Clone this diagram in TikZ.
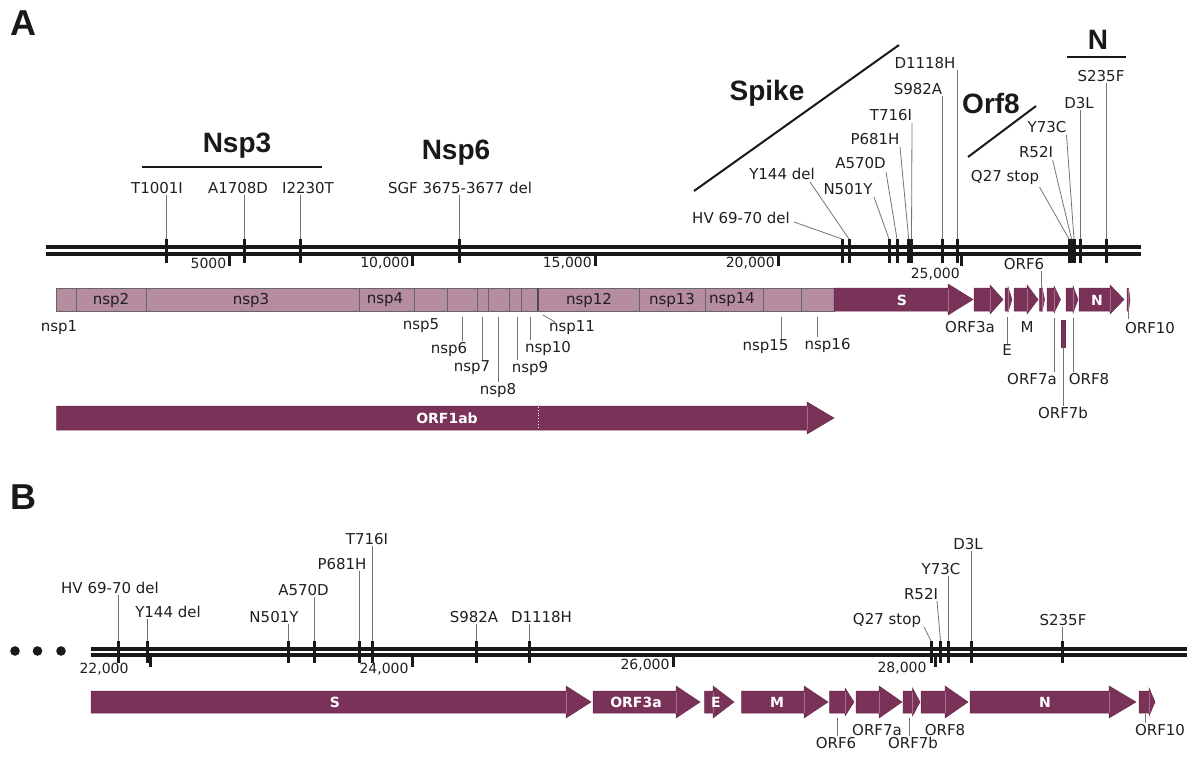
\documentclass[tikz,border=0pt]{standalone}
\usepackage{fontspec}
\setmainfont{DejaVu Sans}
\newfontfamily\ttlfont{Liberation Sans}
\usetikzlibrary{calc}
\definecolor{orfc}{HTML}{7A3258}
\definecolor{nspc}{HTML}{B58CA0}
\tikzset{
  lab/.style={font=\fontsize{15}{16}\selectfont, inner sep=0.8pt, text=black!88},
  tlab/.style={font=\fontsize{14}{15}\selectfont, inner sep=0pt, text=black!88},
  wlab/.style={font=\bfseries\fontsize{14}{15}\selectfont, text=white, inner sep=0pt},
  ttl/.style={font=\ttlfont\bfseries\fontsize{28}{30}\selectfont, inner sep=0pt, text=black!90},
  panel/.style={font=\ttlfont\bfseries\fontsize{36}{38}\selectfont, inner sep=0pt, text=black!90},
  lead/.style={draw=black!55, line width=0.8pt},
  gline/.style={draw=black!90, line width=4pt},
  mbar/.style={draw=black!90, line width=3pt},
  tickm/.style={draw=black!90, line width=3pt},
  slash/.style={draw=black!90, line width=2pt},
  nspbar/.style={fill=nspc, draw=black!60, line width=0.8pt},
  nspsep/.style={draw=black!60, line width=0.8pt},
  orffill/.style={fill=orfc, draw=orfc!85!black, line width=0.5pt},
  headln/.style={draw=orfc!70!white, line width=0.5pt},
}
% #1 x start, #2 head start, #3 tip, #4 y top, #5 y bottom, #6 flare
\newcommand{\orfshape}[6]{%
  \path[orffill] (#1,#4) -- (#2,#4) -- (#2,{#4-#6}) -- (#3,{(#4+#5)/2}) -- (#2,{#5+#6}) -- (#2,#5) -- (#1,#5) -- cycle;
  \draw[headln] (#2,{#4+0.5}) -- (#2,{#5-0.5});}
\begin{document}
\begin{tikzpicture}[x=1pt,y={(0pt,-1pt)}]
\useasboundingbox (0,0) rectangle (1190,757);

\node[panel] (pA) at (23,23) {A};
\node[panel] (pB) at (23,497) {B};

% ---------------- Panel A ----------------
\draw[gline] (46,247.2) -- (1141,247.2);
\draw[gline] (46,253.8) -- (1141,253.8);

% ticks
\coordinate (kA1) at (229.6,253); \draw[tickm] (kA1) -- ++(0,13);
\coordinate (kA2) at (412.5,253); \draw[tickm] (kA2) -- ++(0,13);
\coordinate (kA3) at (595,253); \draw[tickm] (kA3) -- ++(0,13);
\coordinate (kA4) at (778,253); \draw[tickm] (kA4) -- ++(0,13);
\coordinate (kA5) at (961,253); \draw[tickm] (kA5) -- ++(0,13);
\node[tlab, anchor=east] (lkA1) at (226.5,263) {5000};
\node[tlab, anchor=east] (lkA2) at (409.5,263) {10,000};
\node[tlab, anchor=east] (lkA3) at (592,263) {15,000};
\node[tlab, anchor=east] (lkA4) at (775,263) {20,000};
\node[tlab, anchor=east] (lkA5) at (960,274) {25,000};

% titles
\node[ttl] (tNsp3) at (237,146) {Nsp3};
\coordinate (n3a) at (141.5,167); \coordinate (n3b) at (321.5,167);
\draw[slash] (n3a) -- (n3b);
\node[ttl] (tNsp6) at (456,153) {Nsp6};
\node[ttl] (tSpike) at (767,93) {Spike};
\coordinate (spa) at (694,191); \coordinate (spb) at (899,45);
\draw[slash] (spa) -- (spb);
\node[ttl] (tOrf8) at (991,103) {Orf8};
\coordinate (o8a) at (968,157); \coordinate (o8b) at (1036,106);
\draw[slash] (o8a) -- (o8b);
\node[ttl] (tN) at (1098,40) {N};
\coordinate (nna) at (1067,57); \coordinate (nnb) at (1126,57);
\draw[slash] (nna) -- (nnb);

% mutation bars
\foreach \nm/\xx in {a1/166, a2/244, a3/300.5, a4/459.5, a5/842, a6/849, a7/889, a8/897, a9/908.7, a10/911.5, a11/942, a12/957, a13/1069, a14/1071.5, a15/1074, a16/1080, a17/1106}{
  \coordinate (m\nm) at (\xx,239);
  \draw[mbar] (m\nm) -- ++(0,24);
}
% mutation labels
\node[lab] (ta1) at (157,188) {T1001I};
\draw[lead] (ma1 |- ta1.south) -- (ma1);
\node[lab] (ta2) at (238,188) {A1708D};
\draw[lead] (ma2 |- ta2.south) -- (ma2);
\node[lab] (ta3) at (308,188) {I2230T};
\draw[lead] (ma3 |- ta3.south) -- (ma3);
\node[lab] (ta4) at (460,188) {SGF 3675-3677 del};
\draw[lead] (ma4 |- ta4.south) -- (ma4);

\node[lab] (ta5) at (741,218) {HV 69-70 del};
\coordinate (sa5) at (794,222); \draw[lead] (sa5) -- (ma5);
\node[lab] (ta6) at (782,174) {Y144 del};
\coordinate (sa6) at (810,182); \draw[lead] (sa6) -- (ma6);
\node[lab] (ta7) at (848,189) {N501Y};
\coordinate (sa7) at (874,197); \draw[lead] (sa7) -- (ma7);
\node[lab] (ta8) at (860.5,163) {A570D};
\coordinate (sa8) at (886,172); \draw[lead] (sa8) -- (ma8);
\node[lab] (ta9) at (875,139) {P681H};
\coordinate (sa9) at (900,147); \draw[lead] (sa9) -- (ma9);
\node[lab] (ta10) at (891,115) {T716I};
\coordinate (sa10) at (912,123); \draw[lead] (sa10) -- (ma10);
\node[lab] (ta11) at (918,89) {S982A};
\draw[lead] (ma11 |- ta11.south) -- (ma11);
\node[lab] (ta12) at (925,63) {D1118H};
\draw[lead] (ma12 |- ta12.south) -- (ma12);
\node[lab] (ta13) at (1005,177) {Q27 stop};
\coordinate (sa13) at (1039.5,187); \draw[lead] (sa13) -- (ma13);
\node[lab] (ta14) at (1036,152) {R52I};
\coordinate (sa14) at (1052.6,160); \draw[lead] (sa14) -- (ma14);
\node[lab] (ta15) at (1047,127) {Y73C};
\coordinate (sa15) at (1066.5,135); \draw[lead] (sa15) -- (ma15);
\node[lab] (ta16) at (1079,103) {D3L};
\draw[lead] (ma16 |- ta16.south) -- (ma16);
\node[lab] (ta17) at (1101,76) {S235F};
\draw[lead] (ma17 |- ta17.south) -- (ma17);

% nsp bar
\path[nspbar] (56.6,288) rectangle (834,311);
\foreach \xx in {76.5,146,359,414.5,447,477.6,488,509.8,521,639.5,705,763,801}{
  \draw[nspsep] (\xx,288) -- (\xx,311);
}
\draw[draw=black!70, line width=2pt] (538,288) -- (538,311);
\node[lab] (nsp2) at (111,300) {nsp2};
\node[lab] (nsp3) at (251,300) {nsp3};
\node[lab] (nsp4) at (385,300) {nsp4};
\node[lab] (nsp12) at (589,300) {nsp12};
\node[lab] (nsp13) at (672,300) {nsp13};
\node[lab] (nsp14) at (732,300) {nsp14};
\node[lab] (nsp1) at (59,328) {nsp1};
\node[lab] (nsp5) at (421,326) {nsp5};
\node[lab] (nsp6) at (449,349) {nsp6};
\coordinate (c6) at (462,317); \draw[lead] (c6) -- (c6 |- nsp6.north);
\node[lab] (nsp7) at (472,368) {nsp7};
\coordinate (c7) at (482,317); \draw[lead] (c7) -- (c7 |- nsp7.north);
\node[lab] (nsp8) at (498,390) {nsp8};
\coordinate (c8) at (498,317); \draw[lead] (c8) -- (c8 |- nsp8.north);
\node[lab] (nsp9) at (530,368) {nsp9};
\coordinate (c9) at (517,317); \draw[lead] (c9) -- (c9 |- nsp9.north);
\node[lab] (nsp10) at (548,348) {nsp10};
\coordinate (c10) at (530,317); \draw[lead] (c10) -- (c10 |- nsp10.north);
\node[lab] (nsp11) at (572,328) {nsp11};
\coordinate (c11a) at (543,315); \coordinate (c11b) at (555,322); \draw[lead] (c11a) -- (c11b);
\node[lab] (nsp15) at (765.5,347) {nsp15};
\coordinate (c15) at (781.7,317); \draw[lead] (c15) -- (c15 |- nsp15.north);
\node[lab] (nsp16) at (827.6,345) {nsp16};
\coordinate (c16) at (817.5,317); \draw[lead] (c16) -- (c16 |- nsp16.north);

% ORFs panel A
\orfshape{834}{948}{973}{288}{311}{4}
\orfshape{974}{990}{1003}{288}{311}{3}
\orfshape{1005}{1008}{1012}{288}{311}{1}
\orfshape{1014}{1027}{1038}{288}{311}{3}
\orfshape{1039.5}{1042}{1044.5}{288}{311}{1}
\orfshape{1047}{1054}{1060.5}{288}{311}{2}
\orfshape{1066}{1073}{1078}{288}{311}{2}
\orfshape{1079}{1110}{1124}{288}{311}{3}
\orfshape{1127}{1128.5}{1130}{288}{311}{0}
\path[orffill] (1061,320) rectangle (1065,347);
\node[wlab] (aS) at (902,300) {S};
\node[wlab] (aN) at (1097,300) {N};
\node[lab] (aO3) at (970,327) {ORF3a};
\node[lab] (aM) at (1027,327) {M};
\node[lab] (aE) at (1007,350) {E};
\coordinate (cE) at (1007,317); \draw[lead] (cE) -- (cE |- aE.north);
\node[lab] (aO6) at (1024,264) {ORF6};
\coordinate (cO6) at (1041,287); \draw[lead] (cO6) -- (cO6 |- aO6.south);
\node[lab] (aO7a) at (1032,379) {ORF7a};
\coordinate (cO7a) at (1054,318); \draw[lead] (cO7a) -- (cO7a |- aO7a.north);
\node[lab] (aO7b) at (1063,413) {ORF7b};
\coordinate (cO7b) at (1063,347); \draw[lead] (cO7b) -- (cO7b |- aO7b.north);
\node[lab] (aO8) at (1089,379) {ORF8};
\coordinate (cO8) at (1073,318); \draw[lead] (cO8) -- (cO8 |- aO8.north);
\node[lab] (aO10) at (1150,328) {ORF10};
\coordinate (cO10) at (1128.5,311); \draw[lead] (cO10) -- ++(0,8);

% ORF1ab
\orfshape{56.6}{807}{834}{406}{430}{4}
\draw[white, dotted, line width=0.8pt] (538,407) -- (538,429);
\node[wlab] (aORF1ab) at (447,418) {ORF1ab};

% ---------------- Panel B ----------------
\fill[black!90] (15,651) circle (4.8);
\fill[black!90] (37.5,651) circle (4.8);
\fill[black!90] (61,651) circle (4.8);
\draw[gline] (91,648.5) -- (1187,648.5);
\draw[gline] (91,655) -- (1187,655);

\coordinate (kB1) at (150.4,655); \draw[tickm] (kB1) -- ++(0,12);
\coordinate (kB2) at (412,655); \draw[tickm] (kB2) -- ++(0,12);
\coordinate (kB3) at (673.6,655); \draw[tickm] (kB3) -- ++(0,12);
\coordinate (kB4) at (935,655); \draw[tickm] (kB4) -- ++(0,12);
\node[tlab] (lkB1) at (104,669) {22,000};
\node[tlab] (lkB2) at (384,669) {24,000};
\node[tlab] (lkB3) at (645,665) {26,000};
\node[tlab] (lkB4) at (902,668) {28,000};

\foreach \nm/\xx in {b1/118.6, b2/147.3, b3/288, b4/314.6, b5/359, b6/372.4, b7/476.5, b8/529.8, b9/931, b10/940.5, b11/948, b12/971.7, b13/1062}{
  \coordinate (m\nm) at (\xx,641);
  \draw[mbar] (m\nm) -- ++(0,22);
}
\node[lab] (tb1) at (110,588) {HV 69-70 del};
\draw[lead] (mb1 |- tb1.south) -- (mb1);
\node[lab] (tb2) at (168,612) {Y144 del};
\draw[lead] (mb2 |- tb2.south) -- (mb2);
\node[lab] (tb3) at (274,617) {N501Y};
\draw[lead] (mb3 |- tb3.south) -- (mb3);
\node[lab] (tb4) at (303.5,590) {A570D};
\draw[lead] (mb4 |- tb4.south) -- (mb4);
\node[lab] (tb5) at (342,564) {P681H};
\draw[lead] (mb5 |- tb5.south) -- (mb5);
\node[lab] (tb6) at (367,539) {T716I};
\draw[lead] (mb6 |- tb6.south) -- (mb6);
\node[lab] (tb7) at (474,617) {S982A};
\draw[lead] (mb7 |- tb7.south) -- (mb7);
\node[lab] (tb8) at (541.5,617) {D1118H};
\draw[lead] (mb8 |- tb8.south) -- (mb8);
\node[lab] (tb9) at (887,620) {Q27 stop};
\coordinate (sb9) at (924,627); \draw[lead] (sb9) -- (mb9);
\node[lab] (tb10) at (921,594) {R52I};
\coordinate (sb10) at (937,601); \draw[lead] (sb10) -- (mb10);
\node[lab] (tb11) at (941,569) {Y73C};
\draw[lead] (mb11 |- tb11.south) -- (mb11);
\node[lab] (tb12) at (968,544) {D3L};
\draw[lead] (mb12 |- tb12.south) -- (mb12);
\node[lab] (tb13) at (1063,620) {S235F};
\draw[lead] (mb13 |- tb13.south) -- (mb13);

% ORFs panel B
\orfshape{91}{566}{591}{691}{713}{5}
\orfshape{593}{676}{700}{691}{713}{5}
\orfshape{704.5}{713}{734}{691}{713}{5}
\orfshape{741.5}{804}{828}{691}{713}{5}
\orfshape{829.5}{845}{854}{691}{713}{3}
\orfshape{856}{879}{902}{691}{713}{5}
\orfshape{903}{912.5}{920}{691}{713}{3}
\orfshape{921}{945}{968}{691}{713}{5}
\orfshape{970}{1109}{1136}{691}{713}{5}
\orfshape{1139}{1149}{1155}{691}{713}{3}
\node[wlab] (bS) at (335,702) {S};
\node[wlab] (bO3) at (636,702) {ORF3a};
\node[wlab] (bE) at (716,702) {E};
\node[wlab] (bM) at (777,702) {M};
\node[wlab] (bN) at (1045,702) {N};
\node[lab] (bO6) at (836,743) {ORF6};
\coordinate (dO6) at (837,718); \draw[lead] (dO6) -- (dO6 |- bO6.north);
\node[lab] (bO7a) at (877,730) {ORF7a};
\node[lab] (bO7b) at (913,743) {ORF7b};
\coordinate (dO7b) at (909,718); \draw[lead] (dO7b) -- (dO7b |- bO7b.north);
\node[lab] (bO8) at (945,730) {ORF8};
\node[lab] (bO10) at (1160,730) {ORF10};
\coordinate (dO10) at (1145,714); \draw[lead] (dO10) -- (dO10 |- bO10.north);
\end{tikzpicture}
\end{document}
